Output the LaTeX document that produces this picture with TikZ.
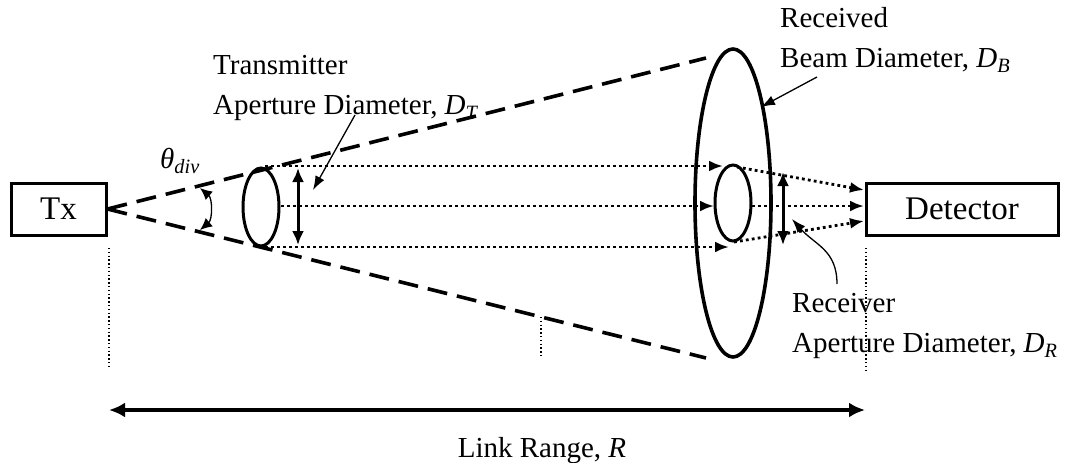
\documentclass[tikz,border=0pt]{standalone}
\usepackage{fontspec}
\setmainfont{Liberation Serif}
\usetikzlibrary{shapes.geometric,arrows.meta,positioning,calc}

\begin{document}
\begin{tikzpicture}[
  x=1pt, y=-1pt,
  box/.style={draw, line width=3pt, minimum height=52pt, inner sep=0pt, font=\fontsize{33}{38}\selectfont},
  lens/.style={draw, ellipse, line width=3pt, inner sep=0pt},
  note/.style={align=left, anchor=north west, inner sep=0pt, font=\fontsize{29}{40}\selectfont},
  beam/.style={line width=3.6pt, dash pattern=on 20pt off 10pt},
  ray/.style={line width=2.8pt, dash pattern=on 2.8pt off 3.2pt, -{Latex[length=14pt,width=11pt]}},
  dim/.style={line width=3pt, {Latex[length=14pt,width=12pt]}-{Latex[length=14pt,width=12pt]}},
  pointer/.style={line width=1.3pt, -{Latex[length=14pt,width=10pt]}},
  guide/.style={line width=1.4pt, dash pattern=on 1.4pt off 2.4pt},
  linkarrow/.style={line width=3.4pt, {Latex[length=16pt,width=15pt]}-{Latex[length=16pt,width=15pt]}}
]
\useasboundingbox (0,0) rectangle (1066,463);

\node[box, minimum width=95pt] (tx) at (58.5,209) {Tx};
\node[box, minimum width=192pt] (det) at (962,209) {Detector};
\node[lens, minimum width=36pt, minimum height=78pt] (txap) at (261,207) {};
\node[lens, minimum width=36pt, minimum height=76pt] (rxap) at (733,203) {};
\node[lens, line width=3.6pt, minimum width=76pt, minimum height=308pt] (spot) at (733,203) {};

\node[note] (txlab) at (213,55) {Transmitter\\Aperture Diameter, \textit{D}\textsubscript{\textit{T}}};
\node[note] (spotlab) at (780,7) {Received\\Beam Diameter, \textit{D}\textsubscript{\textit{B}}};
\node[note] (rxlab) at (792,293) {Receiver\\Aperture Diameter, \textit{D}\textsubscript{\textit{R}}};
\node[font=\fontsize{29}{34}\selectfont] (thlab) at (180,161) {\textit{θ}\textsubscript{\textit{div}}};
\node[font=\fontsize{29}{34}\selectfont, anchor=base] (rangelab) at (542,457) {Link Range, \textit{R}};

\coordinate (b1) at (706,58);
\coordinate (b2) at (706,358);
\coordinate (th1) at (200,188);
\coordinate (th2) at (200,230);
\coordinate (t1) at (265,166);
\coordinate (t2) at (281,206);
\coordinate (t3) at (265,247);
\coordinate (r1) at (723,166);
\coordinate (r2) at (714,206);
\coordinate (r3) at (729,247);
\coordinate (s1) at (737,167);
\coordinate (s2) at (752,206);
\coordinate (s3) at (734,242);
\coordinate (d1) at (864,190);
\coordinate (d2) at (864,206);
\coordinate (d3) at (864,221);
\coordinate (dt1) at (298,168);
\coordinate (dt2) at (298,245);
\coordinate (dr1) at (783,172);
\coordinate (dr2) at (783,245);
\coordinate (dtfrom) at (355,115);
\coordinate (dtto) at (313,190);
\coordinate (dbfrom) at (817,77);
\coordinate (dbto) at (761,107);
\coordinate (drfrom) at (837,284);
\coordinate (drto) at (792,219);
\coordinate (g1) at (109,248);
\coordinate (g2) at (109,367);
\coordinate (g3) at (541,317);
\coordinate (g4) at (541,357);
\coordinate (g5) at (866,248);
\coordinate (g6) at (866,373);
\coordinate (rg1) at (109,410);
\coordinate (rg2) at (865,410);

\draw[beam] (tx.east) -- (b1);
\draw[beam] (tx.east) -- (b2);
\draw[line width=1.3pt, {Latex[length=12pt,width=11pt]}-{Latex[length=12pt,width=11pt]}] (th1) to[bend left=50] (th2);

\draw[ray] (t1) -- (r1);
\draw[ray] (t2) -- (r2);
\draw[ray] (t3) -- (r3);
\draw[ray] (s1) -- (d1);
\draw[ray] (s2) -- (d2);
\draw[ray] (s3) -- (d3);

\draw[dim] (dt1) -- (dt2);
\draw[dim] (dr1) -- (dr2);

\draw[pointer] (dtfrom) -- (dtto);
\draw[pointer] (dbfrom) -- (dbto);
\draw[pointer] (drfrom) .. controls (837,250) and (815,245) .. (drto);

\draw[guide] (g1) -- (g2);
\draw[guide] (g3) -- (g4);
\draw[guide] (g5) -- (g6);
\draw[linkarrow] (rg1) -- (rg2);
\end{tikzpicture}
\end{document}
